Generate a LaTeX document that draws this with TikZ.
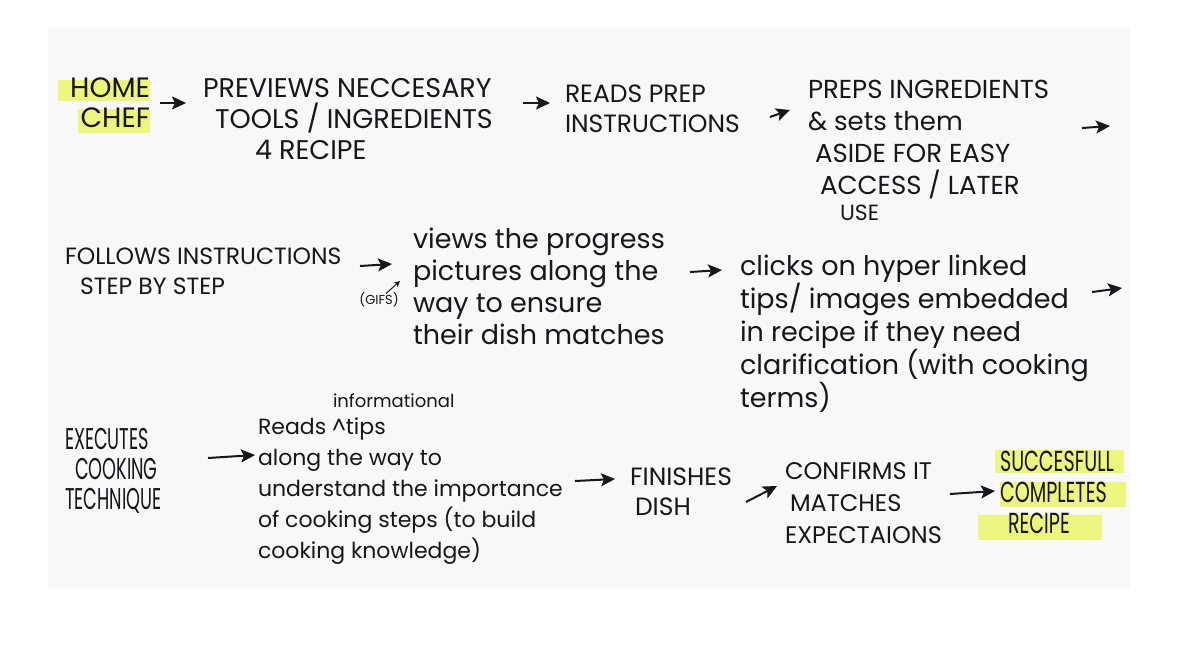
\documentclass[tikz,border=0pt]{standalone}
\usepackage{fontspec}
\setmainfont{Poppins}
\newfontfamily\capsfont[FakeStretch=0.59]{Poppins}
\newfontfamily\capsfontb[FakeStretch=0.66]{Poppins}
\usetikzlibrary{arrows.meta,calc}
\definecolor{paper}{RGB}{248,248,248}
\definecolor{hl}{RGB}{236,245,125}
\definecolor{ink}{RGB}{22,22,28}
\begin{document}
\begin{tikzpicture}[x=1pt,y=-1pt,
  txt/.style={inner sep=0pt, outer sep=0pt, anchor=north west, align=left, text=ink},
  arr/.style={draw=ink, line width=2pt, -{Stealth[length=14pt,width=13pt,inset=3pt]}},
  thinarr/.style={draw=ink, line width=1pt, -{Stealth[length=6pt,width=6pt]}},
  hlbox/.style={fill=hl, draw=none}]
\useasboundingbox (0,0) rectangle (1190,646);
\fill[white] (0,0) rectangle (1190,646);
\fill[paper] (48,27) rectangle (1130,589);
% highlights
\fill[hlbox] (58,80) rectangle (150,101);
\fill[hlbox] (78,109) rectangle (150,133);
\fill[hlbox] (995,450) rectangle (1124,473);
\fill[hlbox] (1000,482) rectangle (1126,507);
\fill[hlbox] (978,515) rectangle (1102,540);
% row 1
\node[txt, anchor=north east, align=right, font=\fontsize{28}{30}\selectfont] (home) at (150,78) {HOME\\CHEF};
\node[txt, font=\fontsize{27}{31}\selectfont] (prev) at (203,78)
  {PREVIEWS NECCESARY\\\hspace*{12pt}TOOLS / INGREDIENTS\\\hspace*{52pt}4 RECIPE};
\node[txt, font=\fontsize{25}{30}\selectfont] (reads) at (565,85) {READS PREP\\INSTRUCTIONS};
\node[txt, font=\fontsize{26}{32}\selectfont] (preps) at (808,80)
  {PREPS INGREDIENTS\\\& sets them\\\hspace*{7pt}ASIDE FOR EASY\\\hspace*{12pt}ACCESS / LATER\\[-6pt]\hspace*{32pt}{\fontsize{22}{24}\selectfont USE}};
\coordinate (c1) at (1110,126);
% row 2
\node[txt, font=\fontsize{23.5}{30}\selectfont] (follows) at (65,248)
  {FOLLOWS INSTRUCTIONS\\\hspace*{15pt}STEP BY STEP};
\node[txt, font=\fontsize{27}{32}\selectfont] (views) at (413,228)
  {views the progress\\pictures along the\\way to ensure\\their dish matches};
\node[inner sep=0pt, text=ink, font=\fontsize{13}{14}\selectfont] (gifs) at (379,300) {(GIFS)};
\node[txt, font=\fontsize{27}{33}\selectfont] (clicks) at (740,255)
  {clicks on hyper linked\\tips/ images embedded\\in recipe if they need\\clarification (with cooking\\terms)};
\coordinate (c2) at (1122,288);
% row 3
\node[txt, font=\capsfont\fontsize{30}{30}\selectfont] (exec) at (65,428)
  {EXECUTES\\\hspace*{10pt}COOKING\\TECHNIQUE};
\node[txt, font=\fontsize{18}{20}\selectfont] (info) at (333,394) {informational};
\node[txt, font=\fontsize{22}{31}\selectfont] (reads2) at (258,418)
  {Reads \textasciicircum tips\\along the way to\\understand the importance\\of cooking steps (to build\\cooking knowledge)};
\node[txt, font=\fontsize{25}{30}\selectfont] (finish) at (630,468) {FINISHES\\\hspace*{5pt}DISH};
\node[txt, font=\fontsize{24}{32}\selectfont] (confirm) at (785,463)
  {CONFIRMS IT\\\hspace*{5pt}MATCHES\\EXPECTAIONS};
\node[txt, font=\capsfontb\fontsize{29}{31}\selectfont] (succ) at (1000,451)
  {SUCCESFULL\\COMPLETES\\\hspace*{8pt}RECIPE};
% connectors
\draw[arr] ($(home.north east)+(10,25)$) -- ($(prev.north west)+(-17,25)$);
\draw[arr] ($(prev.north west)+(320,25)$) -- ($(reads.north west)+(-15,18)$);
\draw[arr] ($(reads.north west)+(205,32)$) -- ($(preps.north west)+(-18,30)$);
\draw[arr] ($(preps.north west)+(274,48)$) -- (c1);
\draw[arr] ($(follows.north west)+(295,18)$) -- ($(views.north west)+(-21,36)$);
\draw[thinarr] ($(gifs.north)+(7,1)$) -- ($(views.north west)+(-13,53)$);
\draw[arr] ($(views.north west)+(277,44)$) -- ($(clicks.north west)+(-18,15)$);
\draw[arr] ($(clicks.north west)+(352,37)$) -- (c2);
\draw[arr] ($(exec.north west)+(143,30)$) -- ($(reads2.north west)+(-3,37)$);
\draw[arr] ($(reads2.north west)+(317,63)$) -- ($(finish.north west)+(-15,11)$);
\draw[arr] ($(finish.north west)+(116,34)$) -- ($(confirm.north west)+(-8,23)$);
\draw[arr] ($(confirm.north west)+(165,31)$) -- ($(succ.north west)+(-5,40)$);
\end{tikzpicture}
\end{document}
